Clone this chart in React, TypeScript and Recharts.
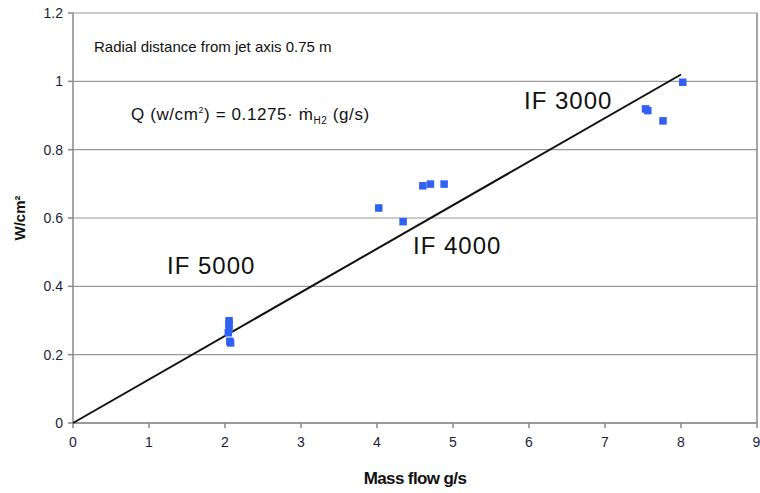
import { ScatterChart, Scatter, XAxis, YAxis, CartesianGrid, ReferenceLine, Label } from 'recharts'

// measured heat flux vs hydrogen mass flow, three IF groups
const if5000 = [
  { x: 2.05, y: 0.3 },
  { x: 2.05, y: 0.29 },
  { x: 2.05, y: 0.275 },
  { x: 2.04, y: 0.265 },
  { x: 2.06, y: 0.24 },
  { x: 2.07, y: 0.235 },
]
const if4000 = [
  { x: 4.02, y: 0.63 },
  { x: 4.34, y: 0.59 },
  { x: 4.6, y: 0.695 },
  { x: 4.7, y: 0.7 },
  { x: 4.88, y: 0.7 },
]
const if3000 = [
  { x: 7.53, y: 0.92 },
  { x: 7.56, y: 0.915 },
  { x: 7.76, y: 0.885 },
  { x: 8.02, y: 0.998 },
]
// fitted line Q = 0.1275 * m
const fit = [
  { x: 0, y: 0 },
  { x: 8, y: 1.02 },
]
const xTicks = [0, 1, 2, 3, 4, 5, 6, 7, 8, 9]
const yTicks = [0, 0.2, 0.4, 0.6, 0.8, 1, 1.2]

const BLUE = '#3160f5'
const font = '"Liberation Sans", Arial, sans-serif'

const Square = (p: any) => <rect x={p.cx - 3.5} y={p.cy - 3.5} width={7.5} height={7.5} fill={BLUE} />

const note = (left: number, top: number, size: number, text: any, spacing = 0) => (
  <div style={{ position: 'absolute', left, top, fontSize: size, fontFamily: font, color: '#111', whiteSpace: 'nowrap', lineHeight: 1, letterSpacing: spacing }}>
    {text}
  </div>
)

export default function App() {
  return (
    <div style={{ position: 'absolute', left: 0, top: 0, width: 760, height: 493, background: '#fff' }}>
      <ScatterChart width={760} height={493} margin={{ top: 13, right: 3, bottom: 0, left: 0 }}>
        <CartesianGrid horizontal vertical={false} stroke="#9a9a9a" strokeWidth={1.2} />
        <XAxis
          type="number" dataKey="x" domain={[0, 9]} ticks={xTicks} height={70}
          stroke="#888" strokeWidth={1.5} tickSize={5}
          tick={{ fontSize: 14, fill: '#1c1c3c', fontFamily: font }}
          tickMargin={9}
        >
          <Label value="Mass flow g/s" position="insideBottom" offset={9}
            style={{ fontSize: 17, fontWeight: 'bold', fill: '#111', fontFamily: font, letterSpacing: -0.6 }} />
        </XAxis>
        <YAxis
          type="number" dataKey="y" domain={[0, 1.2]} ticks={yTicks} width={73}
          stroke="#888" strokeWidth={1.5} tickSize={5}
          tick={{ fontSize: 14, fill: '#1c1c3c', fontFamily: font }}
          tickMargin={5}
        >
          <Label value="W/cm²" angle={-90} position="insideLeft" offset={20}
            style={{ fontSize: 15, fontWeight: 'bold', fill: '#111', fontFamily: font, textAnchor: 'middle' }} />
        </YAxis>
        <ReferenceLine x={9} stroke="#888" strokeWidth={1.5} />
        <Scatter data={fit} line={{ stroke: '#111', strokeWidth: 2 }} shape={() => <g />} isAnimationActive={false} />
        <Scatter data={if5000} shape={Square} isAnimationActive={false} />
        <Scatter data={if4000} shape={Square} isAnimationActive={false} />
        <Scatter data={if3000} shape={Square} isAnimationActive={false} />
      </ScatterChart>
      {note(94, 39, 15, 'Radial distance from jet axis 0.75 m')}
      {note(131, 106, 17, <>Q (w/cm<sup style={{ fontSize: 9 }}>2</sup>) = 0.1275· ṁ<sub style={{ fontSize: 10 }}>H2</sub> (g/s)</>, 0.6)}
      {note(524, 89, 24, 'IF 3000', 1)}
      {note(413, 234, 24, 'IF 4000', 1)}
      {note(167, 254, 24, 'IF 5000', 1)}
    </div>
  )
}
